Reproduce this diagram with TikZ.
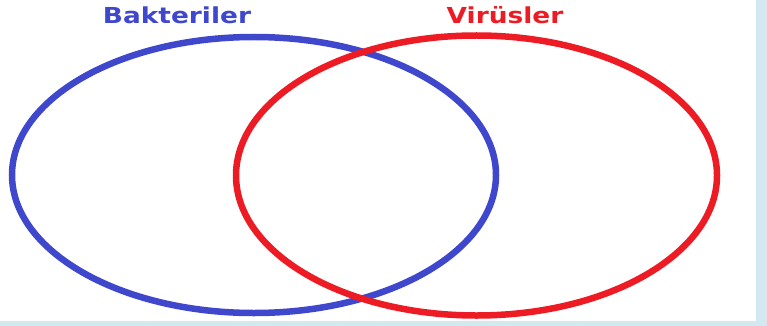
\documentclass[tikz,border=0pt]{standalone}
\usepackage{fontspec}
\setmainfont{DejaVu Sans}
\definecolor{bandblue}{HTML}{D2E9F1}
\definecolor{vennblue}{HTML}{3F48CC}
\definecolor{vennred}{HTML}{ED1C24}
\begin{document}
\begin{tikzpicture}[x=1pt,y=-1pt,
  ring/.style={line width=6.5pt},
  title/.style={font=\fontsize{22}{22}\selectfont\bfseries, inner sep=0pt, xscale=1.2}]
\fill[bandblue] (0,0) rectangle (767,326);
\fill[white] (0,0) rectangle (756,321);
\useasboundingbox (0,0) rectangle (767,326);
\draw[ring, vennblue] (254,175) ellipse [x radius=242, y radius=138];
\draw[ring, vennred] (476.5,175.5) ellipse [x radius=240.5, y radius=140];
\node[title, text=vennblue, anchor=base] (bakteriler) at (177,24) {Bakteriler};
\node[title, text=vennred, anchor=base] (virusler) at (505,24) {Virüsler};
\end{tikzpicture}
\end{document}
